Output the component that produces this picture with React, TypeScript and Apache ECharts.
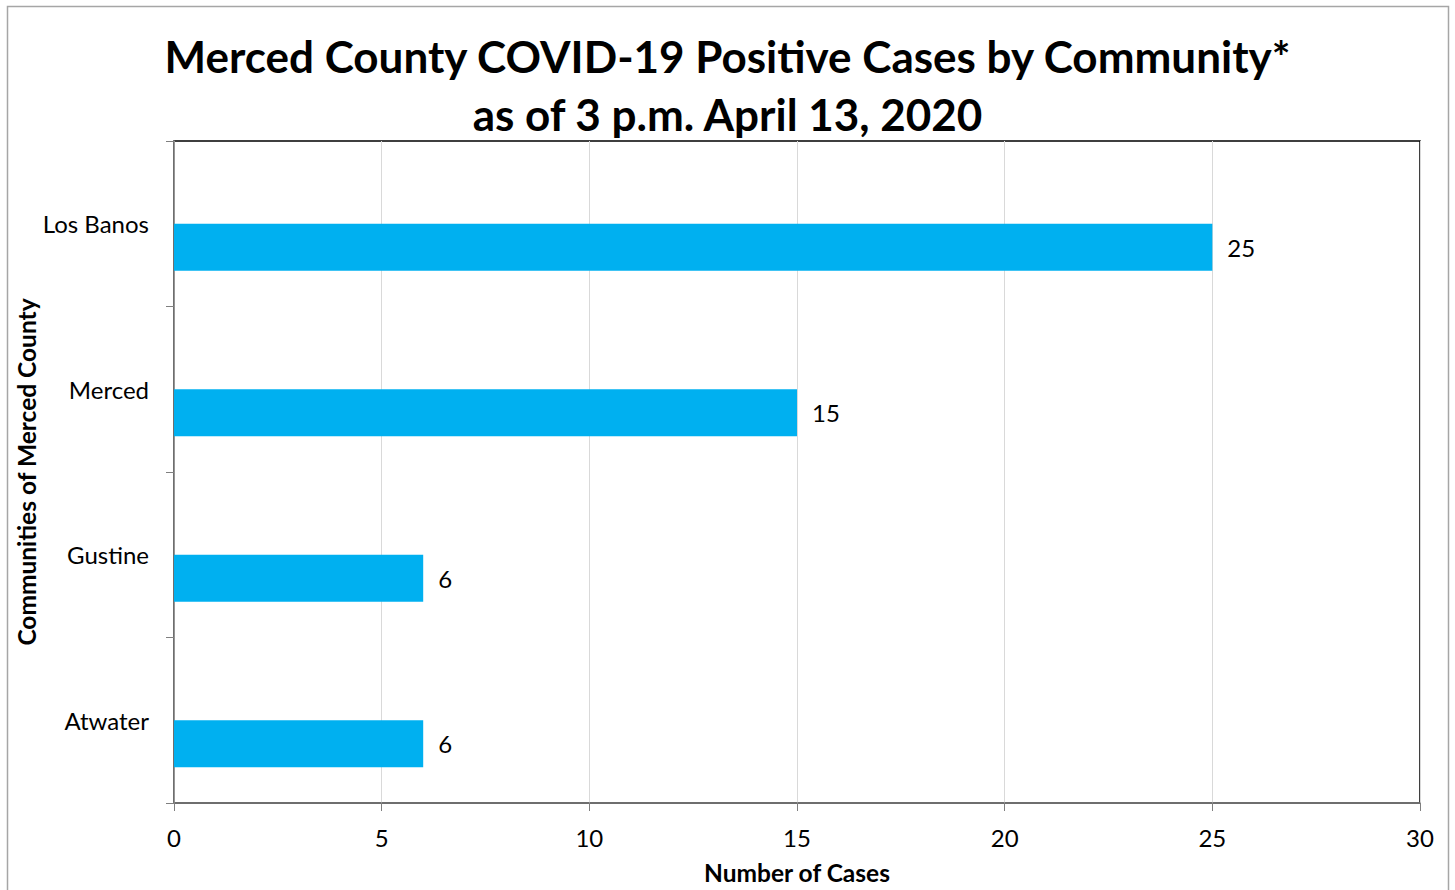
import React, { useEffect, useRef } from "react";
import * as echarts from "echarts";

const categories = ["Atwater", "Gustine", "Merced", "Los Banos"];
const caseCounts = [6, 6, 15, 25];
const spacerValues = [null, null, null, null];
const xTicks = [0, 5, 10, 15, 20, 25, 30];

const FONT = "Lato, 'Open Sans', sans-serif";

export default function App() {
  const ref = useRef<HTMLDivElement>(null);
  useEffect(() => {
    document.body.style.margin = "0";
    document.body.style.overflow = "hidden";
    const chart = echarts.init(ref.current!, null, { renderer: "svg" });
    chart.setOption({
      animation: false,
      backgroundColor: "#ffffff",
      textStyle: { fontFamily: FONT },
      title: {
        text: "Merced County COVID-19 Positive Cases by Community*\nas of 3 p.m. April 13, 2020",
        left: "center",
        top: 22,
        textStyle: {
          fontFamily: FONT,
          fontSize: 44,
          fontWeight: "bold",
          color: "#000",
          lineHeight: 58,
        },
      },
      graphic: [
        {
          type: "rect",
          shape: { x: 7.5, y: 6.5, width: 1441, height: 900 },
          style: { fill: "none", stroke: "#a6a6a6", lineWidth: 1.5 },
          silent: true,
        },
      ],
      grid: {
        left: 174,
        right: 35,
        top: 141,
        bottom: 84,
        show: true,
        borderColor: "#000",
        borderWidth: 1.5,
        containLabel: false,
      },
      xAxis: {
        type: "value",
        min: xTicks[0],
        max: xTicks[xTicks.length - 1],
        interval: 5,
        name: "Number of Cases",
        nameLocation: "middle",
        nameGap: 57,
        nameMoveOverlap: false,
        nameTextStyle: { fontFamily: FONT, fontSize: 24.5, fontWeight: "bold", color: "#000" },
        axisLine: { show: true, lineStyle: { color: "#7f7f7f", width: 1.5 } },
        axisTick: { show: true, length: 8, lineStyle: { color: "#7f7f7f" } },
        axisLabel: { fontFamily: FONT, fontSize: 24, color: "#000", margin: 22 },
        splitLine: { show: true, lineStyle: { color: "#d9d9d9", width: 1 } },
      },
      yAxis: {
        type: "category",
        data: categories,
        name: "Communities of Merced County",
        nameLocation: "middle",
        nameGap: 135,
        nameMoveOverlap: false,
        nameTextStyle: { fontFamily: FONT, fontSize: 24.5, fontWeight: "bold", color: "#000" },
        axisLine: { show: true, lineStyle: { color: "#7f7f7f", width: 1.5 } },
        axisTick: { show: true, length: 8, inside: false, lineStyle: { color: "#7f7f7f" } },
        axisLabel: { fontFamily: FONT, fontSize: 24, color: "#000", margin: 25 },
        splitLine: { show: false },
      },
      series: [
        {
          name: "Spacer",
          type: "bar",
          data: spacerValues,
          barWidth: 47,
          barGap: "0%",
          itemStyle: { color: "transparent" },
        },
        {
          name: "Cases",
          type: "bar",
          data: caseCounts,
          barWidth: 47,
          barGap: "0%",
          itemStyle: { color: "#00b0f0" },
          label: {
            show: true,
            position: "right",
            distance: 15,
            fontFamily: FONT,
            fontSize: 24,
            color: "#000",
          },
        },
      ],
    });
    return () => chart.dispose();
  }, []);
  return <div ref={ref} style={{ width: 1455, height: 890 }} />;
}
